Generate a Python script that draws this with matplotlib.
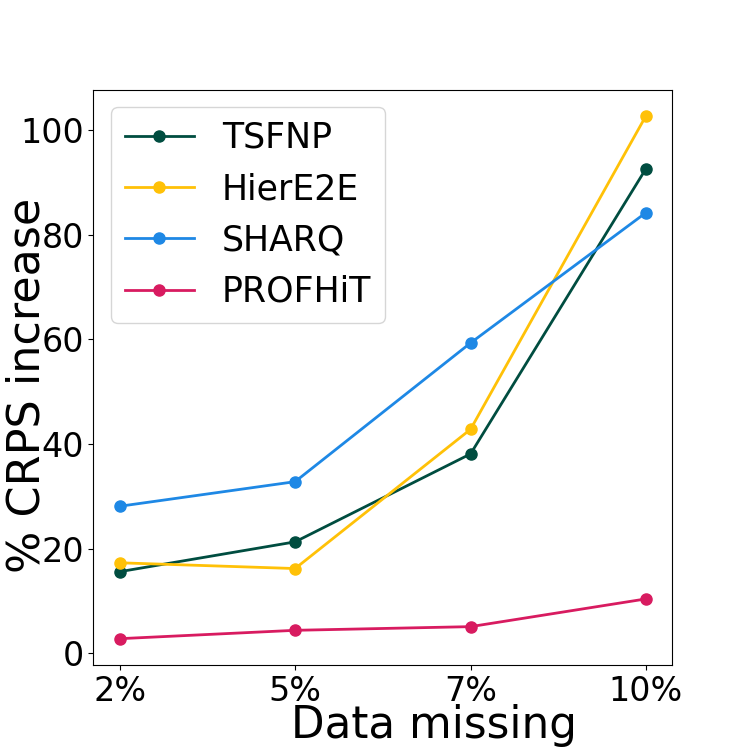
import matplotlib
matplotlib.use("Agg")
import matplotlib.pyplot as plt

# ---------------------------------------------------------------------------
missing = ["2%", "5%", "7%", "10%"]

tsfnp   = [15.6, 21.3, 38.1, 92.6]
hiere2e = [17.3, 16.2, 42.8, 102.7]
sharq   = [28.1, 32.8, 59.3, 84.2]
profhit = [2.8, 4.4, 5.1, 10.4]

series = [
    ("TSFNP",   tsfnp,   "#004D40"),
    ("HierE2E", hiere2e, "#FFC107"),
    ("SHARQ",   sharq,   "#1E88E5"),
    ("PROFHiT", profhit, "#D81B60"),
]

# ---------------------------------------------------------------------------
fig, ax = plt.subplots(figsize=(7.47, 7.47), dpi=100)

for name, vals, col in series:
    ax.plot(missing, vals, "o-", color=col, lw=2, ms=8, label=name)

ax.set_xlabel("Data missing", fontsize=31.5)
ax.set_ylabel("% CRPS increase", fontsize=32)
ax.xaxis.set_label_coords(0.588, -0.068)
ax.yaxis.set_label_coords(-0.078, 0.485)
ax.tick_params(labelsize=24)
ax.legend(fontsize=25, loc="upper left")

fig.savefig("out.png", dpi=100)
